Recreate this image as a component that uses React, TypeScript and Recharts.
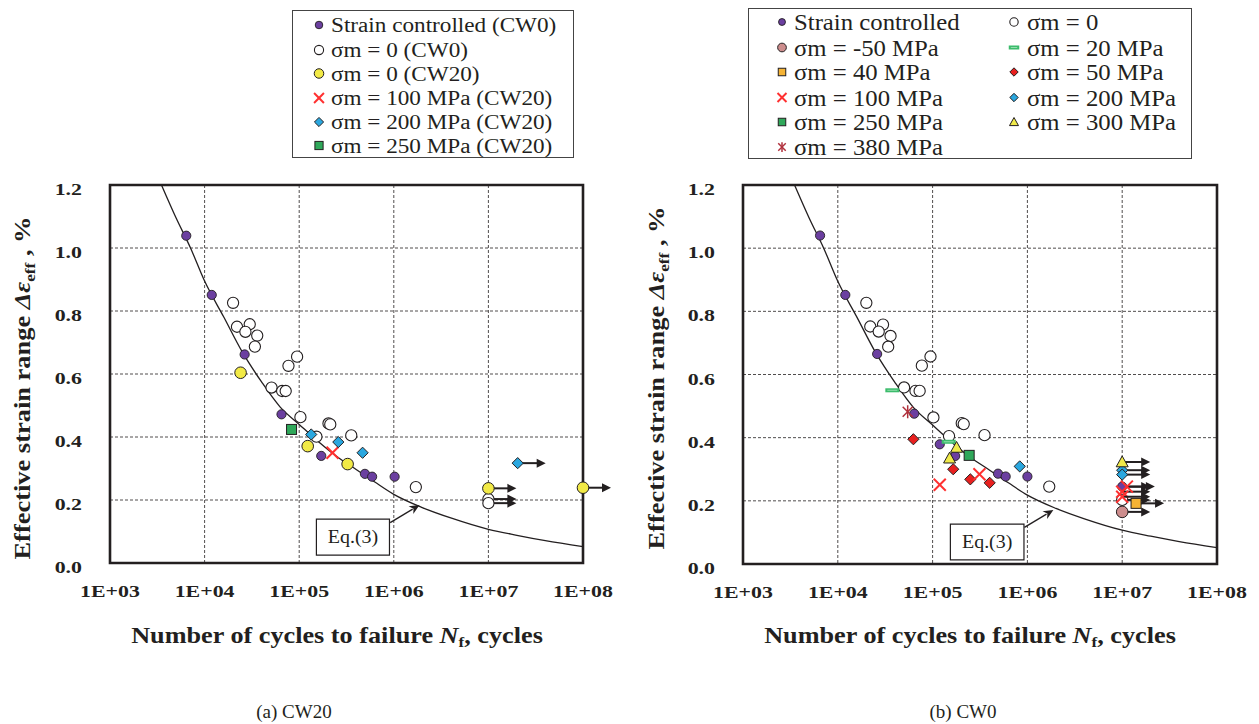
import {
  ScatterChart,
  Scatter,
  XAxis,
  YAxis,
  CartesianGrid,
  ReferenceArea,
  ReferenceLine,
  Label,
} from "recharts"

const FONT = "'Liberation Serif', 'Times New Roman', Times, serif"
const INK = "#231f20"

const X_TICKS = [1e3, 1e4, 1e5, 1e6, 1e7, 1e8]
const Y_TICKS = [0, 0.2, 0.4, 0.6, 0.8, 1.0, 1.2]

// Eq.(3) design curve
const eqN = [3.5e3, 5e3, 7.1e3, 1e4, 1.6e4, 2.5e4, 4e4, 6.3e4, 1e5, 1.6e5, 2.5e5, 4e5, 6.3e5, 1e6, 2e6, 4e6, 1e7, 2e7, 4e7, 1e8]
const eqE = [1.2, 1.095, 1.0, 0.895, 0.78, 0.67, 0.575, 0.495, 0.44, 0.385, 0.338, 0.297, 0.257, 0.218, 0.176, 0.143, 0.107, 0.088, 0.071, 0.052]

// (a) CW20
const aNames = [
  "Strain controlled (CW0)",
  "σm = 0 (CW0)",
  "σm = 0 (CW20)",
  "σm = 100 MPa (CW20)",
  "σm = 200 MPa (CW20)",
  "σm = 250 MPa (CW20)",
]
const aStrainN = [6.4e3, 1.19e4, 2.65e4, 6.5e4, 1.71e5, 4.95e5, 5.9e5, 1.02e6]
const aStrainE = [1.039, 0.851, 0.662, 0.472, 0.34, 0.283, 0.274, 0.274]
const aZeroCW0N = [2.0e4, 2.2e4, 3.0e4, 2.7e4, 3.6e4, 3.4e4, 9.5e4, 7.7e4, 5.1e4, 6.6e4, 7.2e4, 1.03e5, 1.52e5, 2.04e5, 2.13e5, 3.55e5, 1.71e6]
const aZeroCW0E = [0.826, 0.75, 0.758, 0.734, 0.722, 0.687, 0.655, 0.626, 0.557, 0.546, 0.546, 0.463, 0.401, 0.443, 0.44, 0.405, 0.241]
const aZeroCW0RunN = [1e7, 1e7]
const aZeroCW0RunE = [0.203, 0.19]
const aZeroCW20N = [2.4e4, 1.23e5, 3.25e5]
const aZeroCW20E = [0.604, 0.371, 0.314]
const aZeroCW20RunN = [1e7, 1e8]
const aZeroCW20RunE = [0.237, 0.239]
const a100N = [2.25e5]
const a100E = [0.35]
const a200N = [1.34e5, 2.59e5, 4.68e5]
const a200E = [0.408, 0.384, 0.35]
const a200RunN = [2.04e7]
const a200RunE = [0.317]
const a250N = [8.3e4]
const a250E = [0.424]

// (b) CW0
const bNames = [
  "Strain controlled",
  "σm = -50 MPa",
  "σm = 40 MPa",
  "σm = 100 MPa",
  "σm = 250 MPa",
  "σm = 380 MPa",
  "σm = 0",
  "σm = 20 MPa",
  "σm = 50 MPa",
  "σm = 200 MPa",
  "σm = 300 MPa",
]
const bStrainN = [6.5e3, 1.2e4, 2.6e4, 6.4e4, 1.19e5, 1.73e5, 4.9e5, 5.9e5, 1.0e6]
const bStrainE = [1.04, 0.852, 0.665, 0.476, 0.379, 0.342, 0.286, 0.277, 0.277]
const bStrainRunN = [1e7]
const bStrainRunE = [0.245]
const bZeroN = [2.0e4, 2.2e4, 3.0e4, 2.7e4, 3.6e4, 3.4e4, 9.5e4, 7.7e4, 5.0e4, 6.6e4, 7.3e4, 1.02e5, 1.49e5, 2.03e5, 2.13e5, 3.53e5, 1.7e6]
const bZeroE = [0.827, 0.752, 0.758, 0.736, 0.722, 0.688, 0.657, 0.628, 0.559, 0.548, 0.548, 0.464, 0.405, 0.446, 0.443, 0.408, 0.245]
const bZeroRunN = [1e7]
const bZeroRunE = [0.203]
const bM50RunN = [1e7]
const bM50RunE = [0.165]
const b20N = [3.76e4, 1.48e5]
const b20E = [0.55, 0.387]
const b40RunN = [1.4e7]
const b40RunE = [0.192]
const b50N = [6.27e4, 1.65e5, 2.5e5, 4.0e5]
const b50E = [0.395, 0.3, 0.268, 0.257]
const b100N = [1.19e5, 3.12e5]
const b100E = [0.251, 0.284]
const b100RunN = [1e7, 1.12e7, 1e7]
const b100RunE = [0.229, 0.245, 0.213]
const b200N = [8.3e5]
const b200E = [0.309]
const b200RunN = [1e7, 1e7]
const b200RunE = [0.297, 0.283]
const b250N = [2.43e5]
const b250E = [0.344]
const b300N = [1.79e5, 1.51e5]
const b300E = [0.369, 0.335]
const b300RunN = [1e7]
const b300RunE = [0.323]
const b380N = [5.46e4]
const b380E = [0.482]

const pts = (n: number[], e: number[]) => n.map((v, i) => ({ n: v, e: e[i] }))

function SText({ x, y, size, sx = 1, weight = "bold", anchor = "middle", rotate = 0, children }: any) {
  const t = `translate(${x},${y})${rotate ? ` rotate(${rotate})` : ""} scale(${sx},1)`
  return (
    <text
      transform={t}
      textAnchor={anchor}
      fill={INK}
      style={{ fontFamily: FONT, fontSize: size, fontWeight: weight }}
    >
      {children}
    </text>
  )
}

function Marker({ kind, x, y, k = 1 }: { kind: string; x: number; y: number; k?: number }) {
  const s = (v: number) => v * k
  switch (kind) {
    case "strain":
      return <circle cx={x} cy={y} r={s(4.6)} fill="#6b3fa0" stroke={INK} strokeWidth={0.9} />
    case "open":
      return <circle cx={x} cy={y} r={s(5.6)} fill="#fff" stroke={INK} strokeWidth={1.1} />
    case "yellow":
      return <circle cx={x} cy={y} r={s(5.8)} fill="#f2ea46" stroke={INK} strokeWidth={1} />
    case "pink":
      return <circle cx={x} cy={y} r={s(5.8)} fill="#cd8d8d" stroke={INK} strokeWidth={1} />
    case "cross": {
      const d = s(6)
      return (
        <g stroke="#ff3030" strokeWidth={2}>
          <line x1={x - d} y1={y - d} x2={x + d} y2={y + d} />
          <line x1={x - d} y1={y + d} x2={x + d} y2={y - d} />
        </g>
      )
    }
    case "star": {
      const d = s(5)
      return (
        <g stroke="#b0303c" strokeWidth={1.5}>
          <line x1={x - d} y1={y - d} x2={x + d} y2={y + d} />
          <line x1={x - d} y1={y + d} x2={x + d} y2={y - d} />
          <line x1={x} y1={y - d * 1.3} x2={x} y2={y + d * 1.3} />
        </g>
      )
    }
    case "diamondBlue":
    case "diamondRed": {
      const d = s(5.6)
      return (
        <polygon
          points={`${x},${y - d} ${x + d},${y} ${x},${y + d} ${x - d},${y}`}
          fill={kind === "diamondBlue" ? "#2aa7df" : "#e8201f"}
          stroke={INK}
          strokeWidth={1}
        />
      )
    }
    case "squareGreen":
    case "squareOrange": {
      const d = s(5)
      return (
        <rect
          x={x - d}
          y={y - d}
          width={2 * d}
          height={2 * d}
          fill={kind === "squareGreen" ? "#2fa85a" : "#f5b335"}
          stroke={INK}
          strokeWidth={1}
        />
      )
    }
    case "triangle": {
      const d = s(6)
      return (
        <polygon
          points={`${x},${y - d} ${x + d},${y + d * 0.8} ${x - d},${y + d * 0.8}`}
          fill="#f0ea4a"
          stroke={INK}
          strokeWidth={1}
        />
      )
    }
    case "dash": {
      const w = s(7)
      return (
        <g>
          <rect x={x - w} y={y - 2} width={2 * w} height={4} fill="#3cbc6c" />
          <line x1={x - w + 2} y1={y} x2={x + w - 2} y2={y} stroke="#a8e6bd" strokeWidth={0.8} />
        </g>
      )
    }
    default:
      return null
  }
}

const dotShape = (kind: string) => (p: any) => <Marker kind={kind} x={p.cx} y={p.cy} />

const runShape = (kind: string) => (p: any) => {
  const L = 28
  const tip = p.cx + L
  return (
    <g>
      <line x1={p.cx} y1={p.cy} x2={tip - 8} y2={p.cy} stroke={INK} strokeWidth={2} />
      <polygon points={`${tip},${p.cy} ${tip - 9},${p.cy - 4.5} ${tip - 9},${p.cy + 4.5}`} fill={INK} />
      <Marker kind={kind} x={p.cx} y={p.cy} />
    </g>
  )
}

const noShape = () => <g />

function ArrowLine(p: any) {
  const { x1, y1, x2, y2 } = p
  const a = Math.atan2(y2 - y1, x2 - x1)
  const L = 10
  const W = 4.5
  const bx = x2 - L * Math.cos(a)
  const by = y2 - L * Math.sin(a)
  const px = -Math.sin(a) * W
  const py = Math.cos(a) * W
  return (
    <g>
      <line x1={x1} y1={y1} x2={bx + 2 * Math.cos(a)} y2={by + 2 * Math.sin(a)} stroke={INK} strokeWidth={1.3} />
      <polygon points={`${x2},${y2} ${bx + px},${by + py} ${bx + 3 * Math.cos(a)},${by + 3 * Math.sin(a)} ${bx - px},${by - py}`} fill={INK} />
    </g>
  )
}

function XTick({ x, y, payload }: any) {
  const exp = Math.round(Math.log10(payload.value))
  return (
    <SText x={x} y={y + 28} size={17.5} sx={1.25}>
      {`1E+${String(exp).padStart(2, "0")}`}
    </SText>
  )
}

function YTick({ x, y, payload }: any) {
  return (
    <SText x={x - 22} y={y + 10} size={17.5} sx={1.25} anchor="end">
      {Number(payload.value).toFixed(1)}
    </SText>
  )
}

interface SeriesDef {
  name: string
  kind: string
  data: { n: number; e: number }[]
  run?: boolean
}

interface PanelProps {
  left: number
  width: number
  margin: { top: number; right: number; bottom: number; left: number }
  series: SeriesDef[]
  yTitle: { x: number; y: number }
  xTitle: { x: number; y: number }
  eqBox: { x1: number; x2: number; y1: number; y2: number }
  eqArrow: { x: number; y: number }[]
}

function Panel({ left, width, margin, series, yTitle, xTitle, eqBox, eqArrow }: PanelProps) {
  const curve = pts(eqN, eqE)
  return (
    <div style={{ position: "absolute", left, top: 0 }}>
      <ScatterChart width={width} height={724} margin={margin}>
        <CartesianGrid strokeDasharray="3 2" stroke={INK} strokeWidth={0.8} />
        <XAxis
          dataKey="n"
          type="number"
          scale="log"
          domain={[1e3, 1e8]}
          ticks={X_TICKS}
          interval={0}
          tickLine={false}
          axisLine={false}
          tickMargin={0}
          height={40}
          tick={<XTick />}
        >
          <Label
            content={() => (
              <SText x={xTitle.x} y={xTitle.y} size={23} sx={1.14}>
                <tspan>Number of cycles to failure </tspan>
                <tspan fontStyle="italic">N</tspan>
                <tspan fontSize={15} dy={4}>f</tspan>
                <tspan dy={-4}>, cycles</tspan>
              </SText>
            )}
          />
        </XAxis>
        <YAxis
          dataKey="e"
          type="number"
          domain={[0, 1.2]}
          ticks={Y_TICKS}
          interval={0}
          tickLine={false}
          axisLine={false}
          tickMargin={0}
          width={60}
          tick={<YTick />}
        >
          <Label
            content={() => (
              <SText x={yTitle.x} y={yTitle.y} size={23} sx={1.15} rotate={-90}>
                <tspan>Effective strain range </tspan>
                <tspan fontStyle="italic">Δε</tspan>
                <tspan fontSize={15} dy={5}>eff</tspan>
                <tspan dy={-5}> , %</tspan>
              </SText>
            )}
          />
        </YAxis>
        <ReferenceArea
          x1={eqBox.x1}
          x2={eqBox.x2}
          y1={eqBox.y1}
          y2={eqBox.y2}
          fill="#fff"
          fillOpacity={1}
          stroke={INK}
          strokeWidth={1.2}
        >
          <Label
            content={(p: any) => (
              <SText
                x={p.viewBox.x + p.viewBox.width / 2}
                y={p.viewBox.y + p.viewBox.height / 2 + 6}
                size={19}
                sx={1.05}
                weight="normal"
              >
                Eq.(3)
              </SText>
            )}
          />
        </ReferenceArea>
        <ReferenceLine segment={eqArrow} shape={ArrowLine} ifOverflow="visible" />
        <Scatter
          name="Eq.(3)"
          data={curve}
          line={{ stroke: INK, strokeWidth: 1.3 }}
          lineJointType="monotoneX"
          shape={noShape}
          legendType="none"
          isAnimationActive={false}
        />
        {series.map((s, i) => (
          <Scatter
            key={i}
            name={s.name}
            data={s.data}
            shape={s.run ? runShape(s.kind) : dotShape(s.kind)}
            isAnimationActive={false}
          />
        ))}
        <ReferenceArea x1={1e3} x2={1e8} y1={0} y2={1.2} fill="none" stroke={INK} strokeWidth={2.6} />
      </ScatterChart>
    </div>
  )
}

const aSeries: SeriesDef[] = [
  { name: aNames[1], kind: "open", data: pts(aZeroCW0N, aZeroCW0E) },
  { name: aNames[1], kind: "open", data: pts(aZeroCW0RunN, aZeroCW0RunE), run: true },
  { name: aNames[0], kind: "strain", data: pts(aStrainN, aStrainE) },
  { name: aNames[2], kind: "yellow", data: pts(aZeroCW20N, aZeroCW20E) },
  { name: aNames[2], kind: "yellow", data: pts(aZeroCW20RunN, aZeroCW20RunE), run: true },
  { name: aNames[3], kind: "cross", data: pts(a100N, a100E) },
  { name: aNames[4], kind: "diamondBlue", data: pts(a200N, a200E) },
  { name: aNames[4], kind: "diamondBlue", data: pts(a200RunN, a200RunE), run: true },
  { name: aNames[5], kind: "squareGreen", data: pts(a250N, a250E) },
]

const bSeries: SeriesDef[] = [
  { name: bNames[6], kind: "open", data: pts(bZeroN, bZeroE) },
  { name: bNames[1], kind: "pink", data: pts(bM50RunN, bM50RunE), run: true },
  { name: bNames[6], kind: "open", data: pts(bZeroRunN, bZeroRunE), run: true },
  { name: bNames[2], kind: "squareOrange", data: pts(b40RunN, b40RunE), run: true },
  { name: bNames[0], kind: "strain", data: pts(bStrainN, bStrainE) },
  { name: bNames[0], kind: "strain", data: pts(bStrainRunN, bStrainRunE), run: true },
  { name: bNames[7], kind: "dash", data: pts(b20N, b20E) },
  { name: bNames[8], kind: "diamondRed", data: pts(b50N, b50E) },
  { name: bNames[3], kind: "cross", data: pts(b100N, b100E) },
  { name: bNames[3], kind: "cross", data: pts(b100RunN, b100RunE), run: true },
  { name: bNames[9], kind: "diamondBlue", data: pts(b200N, b200E) },
  { name: bNames[9], kind: "diamondBlue", data: pts(b200RunN, b200RunE), run: true },
  { name: bNames[4], kind: "squareGreen", data: pts(b250N, b250E) },
  { name: bNames[10], kind: "triangle", data: pts(b300N, b300E) },
  { name: bNames[10], kind: "triangle", data: pts(b300RunN, b300RunE), run: true },
  { name: bNames[5], kind: "star", data: pts(b380N, b380E) },
]

const aLegendKinds = ["strain", "open", "yellow", "cross", "diamondBlue", "squareGreen"]
const bLegendKinds = ["strain", "pink", "squareOrange", "cross", "squareGreen", "star", "open", "dash", "diamondRed", "diamondBlue", "triangle"]
const aLegendRows = [25, 50, 73.5, 98, 122, 145.5]
const bLegendRows = [22, 47.5, 72, 97.5, 122, 147]

function Legends() {
  return (
    <svg width={1259} height={165} style={{ position: "absolute", left: 0, top: 0 }}>
      <rect x={292.5} y={10.5} width={281} height={147} fill="#fff" stroke="#444" strokeWidth={1} />
      {aNames.map((name, i) => (
        <g key={name}>
          <Marker kind={aLegendKinds[i]} x={319} y={aLegendRows[i]} k={0.82} />
          <SText x={331} y={aLegendRows[i] + 7} size={20} sx={1.16} weight="normal" anchor="start">
            {name}
          </SText>
        </g>
      ))}
      <rect x={748.5} y={8.5} width={443} height={150} fill="#fff" stroke="#444" strokeWidth={1} />
      {bNames.map((name, i) => {
        const col = i < 6 ? 0 : 1
        const row = col === 0 ? i : i - 6
        const mx = col === 0 ? 782 : 1014
        const tx = col === 0 ? 794 : 1027
        return (
          <g key={name}>
            <Marker kind={bLegendKinds[i]} x={mx} y={bLegendRows[row]} k={0.75} />
            <SText x={tx} y={bLegendRows[row] + 8} size={22.5} sx={1.1} weight="normal" anchor="start">
              {name}
            </SText>
          </g>
        )
      })}
    </svg>
  )
}

export default function App() {
  return (
    <div
      style={{
        position: "absolute",
        left: 0,
        top: 0,
        width: 1259,
        height: 724,
        background: "#fff",
        overflow: "hidden",
        fontFamily: FONT,
      }}
    >
      <Panel
        left={0}
        width={640}
        margin={{ top: 185, right: 57, bottom: 121, left: 50 }}
        series={aSeries}
        yTitle={{ x: 30, y: 388 }}
        xTitle={{ x: 337, y: 643 }}
        eqBox={{ x1: 1.52e5, x2: 9.0e5, y1: 0.025, y2: 0.139 }}
        eqArrow={[{ x: 9.16e5, y: 0.128 }, { x: 1.87e6, y: 0.184 }]}
      />
      <Panel
        left={630}
        width={629}
        margin={{ top: 185, right: 42, bottom: 120, left: 53 }}
        series={bSeries}
        yTitle={{ x: 34, y: 378 }}
        xTitle={{ x: 340, y: 643 }}
        eqBox={{ x1: 1.54e5, x2: 9.2e5, y1: 0.013, y2: 0.126 }}
        eqArrow={[{ x: 9.3e5, y: 0.116 }, { x: 1.88e6, y: 0.171 }]}
      />
      <Legends />
      <svg width={1259} height={40} style={{ position: "absolute", left: 0, top: 690 }}>
        <SText x={294} y={28} size={19} weight="normal">(a) CW20</SText>
        <SText x={963} y={28} size={19} weight="normal">(b) CW0</SText>
      </svg>
    </div>
  )
}
